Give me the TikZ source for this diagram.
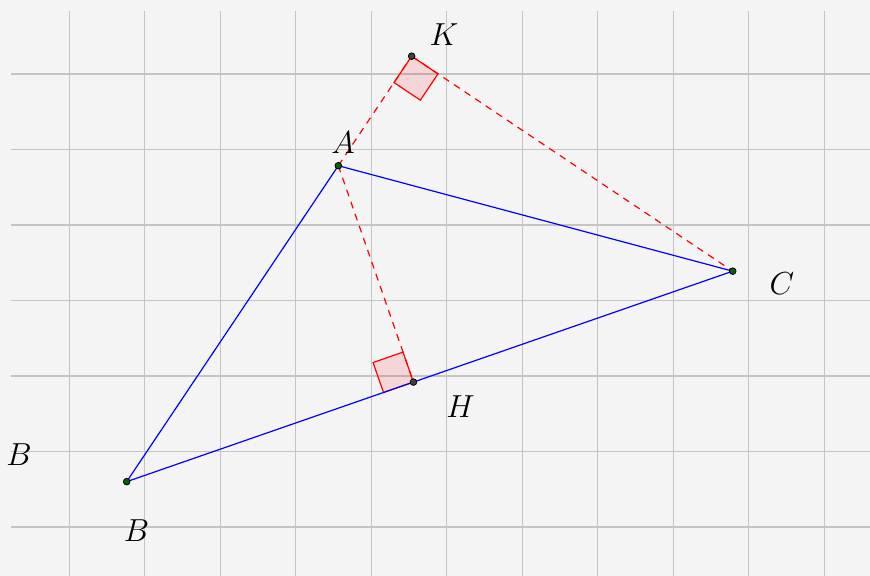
\documentclass[tikz,border=0pt]{standalone}
\usetikzlibrary{calc}
\definecolor{fond}{HTML}{F4F4F4}
\definecolor{grille}{HTML}{C4C4C4}
\definecolor{vertpt}{HTML}{006400}
\definecolor{grispt}{HTML}{404040}
\begin{document}
\begin{tikzpicture}[x=1cm, y=1cm,
  cote/.style={blue, line width=0.45pt},
  hauteur/.style={red, line width=0.45pt, dash pattern=on 2.6pt off 2.2pt},
  angledroit/.style={draw=red, fill=red, fill opacity=0.12, line width=0.45pt},
  ptvert/.style={circle, fill=vertpt, draw=black, line width=0.3pt, inner sep=0pt, minimum size=2.5pt},
  ptgris/.style={circle, fill=grispt, draw=black, line width=0.3pt, inner sep=0pt, minimum size=2.5pt},
  etiq/.style={font=\large, inner sep=0pt}]
  % Fond et grille
  \fill[fond] (-0.918,-0.649) rectangle (10.605,6.98);
  \useasboundingbox (-0.918,-0.649) rectangle (10.605,6.98);
  \foreach \x in {0,...,10} {
    \draw[grille, line width=0.45pt] (\x,-0.649) -- (\x,6.834);
  }
  \foreach \y in {0,...,6} {
    \draw[grille, line width=0.45pt] (-0.772,\y) -- (10.605,\y);
  }

  % Sommets et pieds des hauteurs
  \coordinate (A) at (3.563,4.785);
  \coordinate (B) at (0.760,0.600);
  \coordinate (C) at (8.787,3.388);
  \coordinate (H) at ($(B)!(A)!(C)$);
  \coordinate (K) at ($(B)!(C)!(A)$);

  % Angles droits
  \coordinate (Ha) at ($(H)!0.42cm!(A)$);
  \coordinate (Hb) at ($(H)!0.42cm!(B)$);
  \coordinate (Hc) at ($(Ha)+(Hb)-(H)$);
  \draw[angledroit] (H) -- (Ha) -- (Hc) -- (Hb) -- cycle;
  \coordinate (Ka) at ($(K)!0.42cm!(A)$);
  \coordinate (Kc) at ($(K)!0.42cm!(C)$);
  \coordinate (Kd) at ($(Ka)+(Kc)-(K)$);
  \draw[angledroit] (K) -- (Kc) -- (Kd) -- (Ka) -- cycle;

  % Hauteurs en pointilles
  \draw[hauteur] (A) -- (H);
  \draw[hauteur] (A) -- (K);
  \draw[hauteur] (K) -- (C);

  % Triangle
  \draw[cote] (A) -- (B) -- (C) -- cycle;

  % Points
  \node[ptvert] (pA) at (A) {};
  \node[ptvert] (pB) at (B) {};
  \node[ptvert] (pC) at (C) {};
  \node[ptgris] (pH) at (H) {};
  \node[ptgris] (pK) at (K) {};

  % Etiquettes
  \node[etiq] (lA) at ($(A)+(0.062,0.30)$) {$A$};
  \node[etiq] (lB) at ($(B)+(0.13,-0.65)$) {$B$};
  \node[etiq] (lC) at ($(C)+(0.65,-0.16)$) {$C$};
  \node[etiq] (lH) at ($(H)+(0.625,-0.33)$) {$H$};
  \node[etiq] (lK) at ($(K)+(0.43,0.28)$) {$K$};
  \node[etiq] (lB2) at (-0.666,0.954) {$B$};
\end{tikzpicture}
\end{document}
